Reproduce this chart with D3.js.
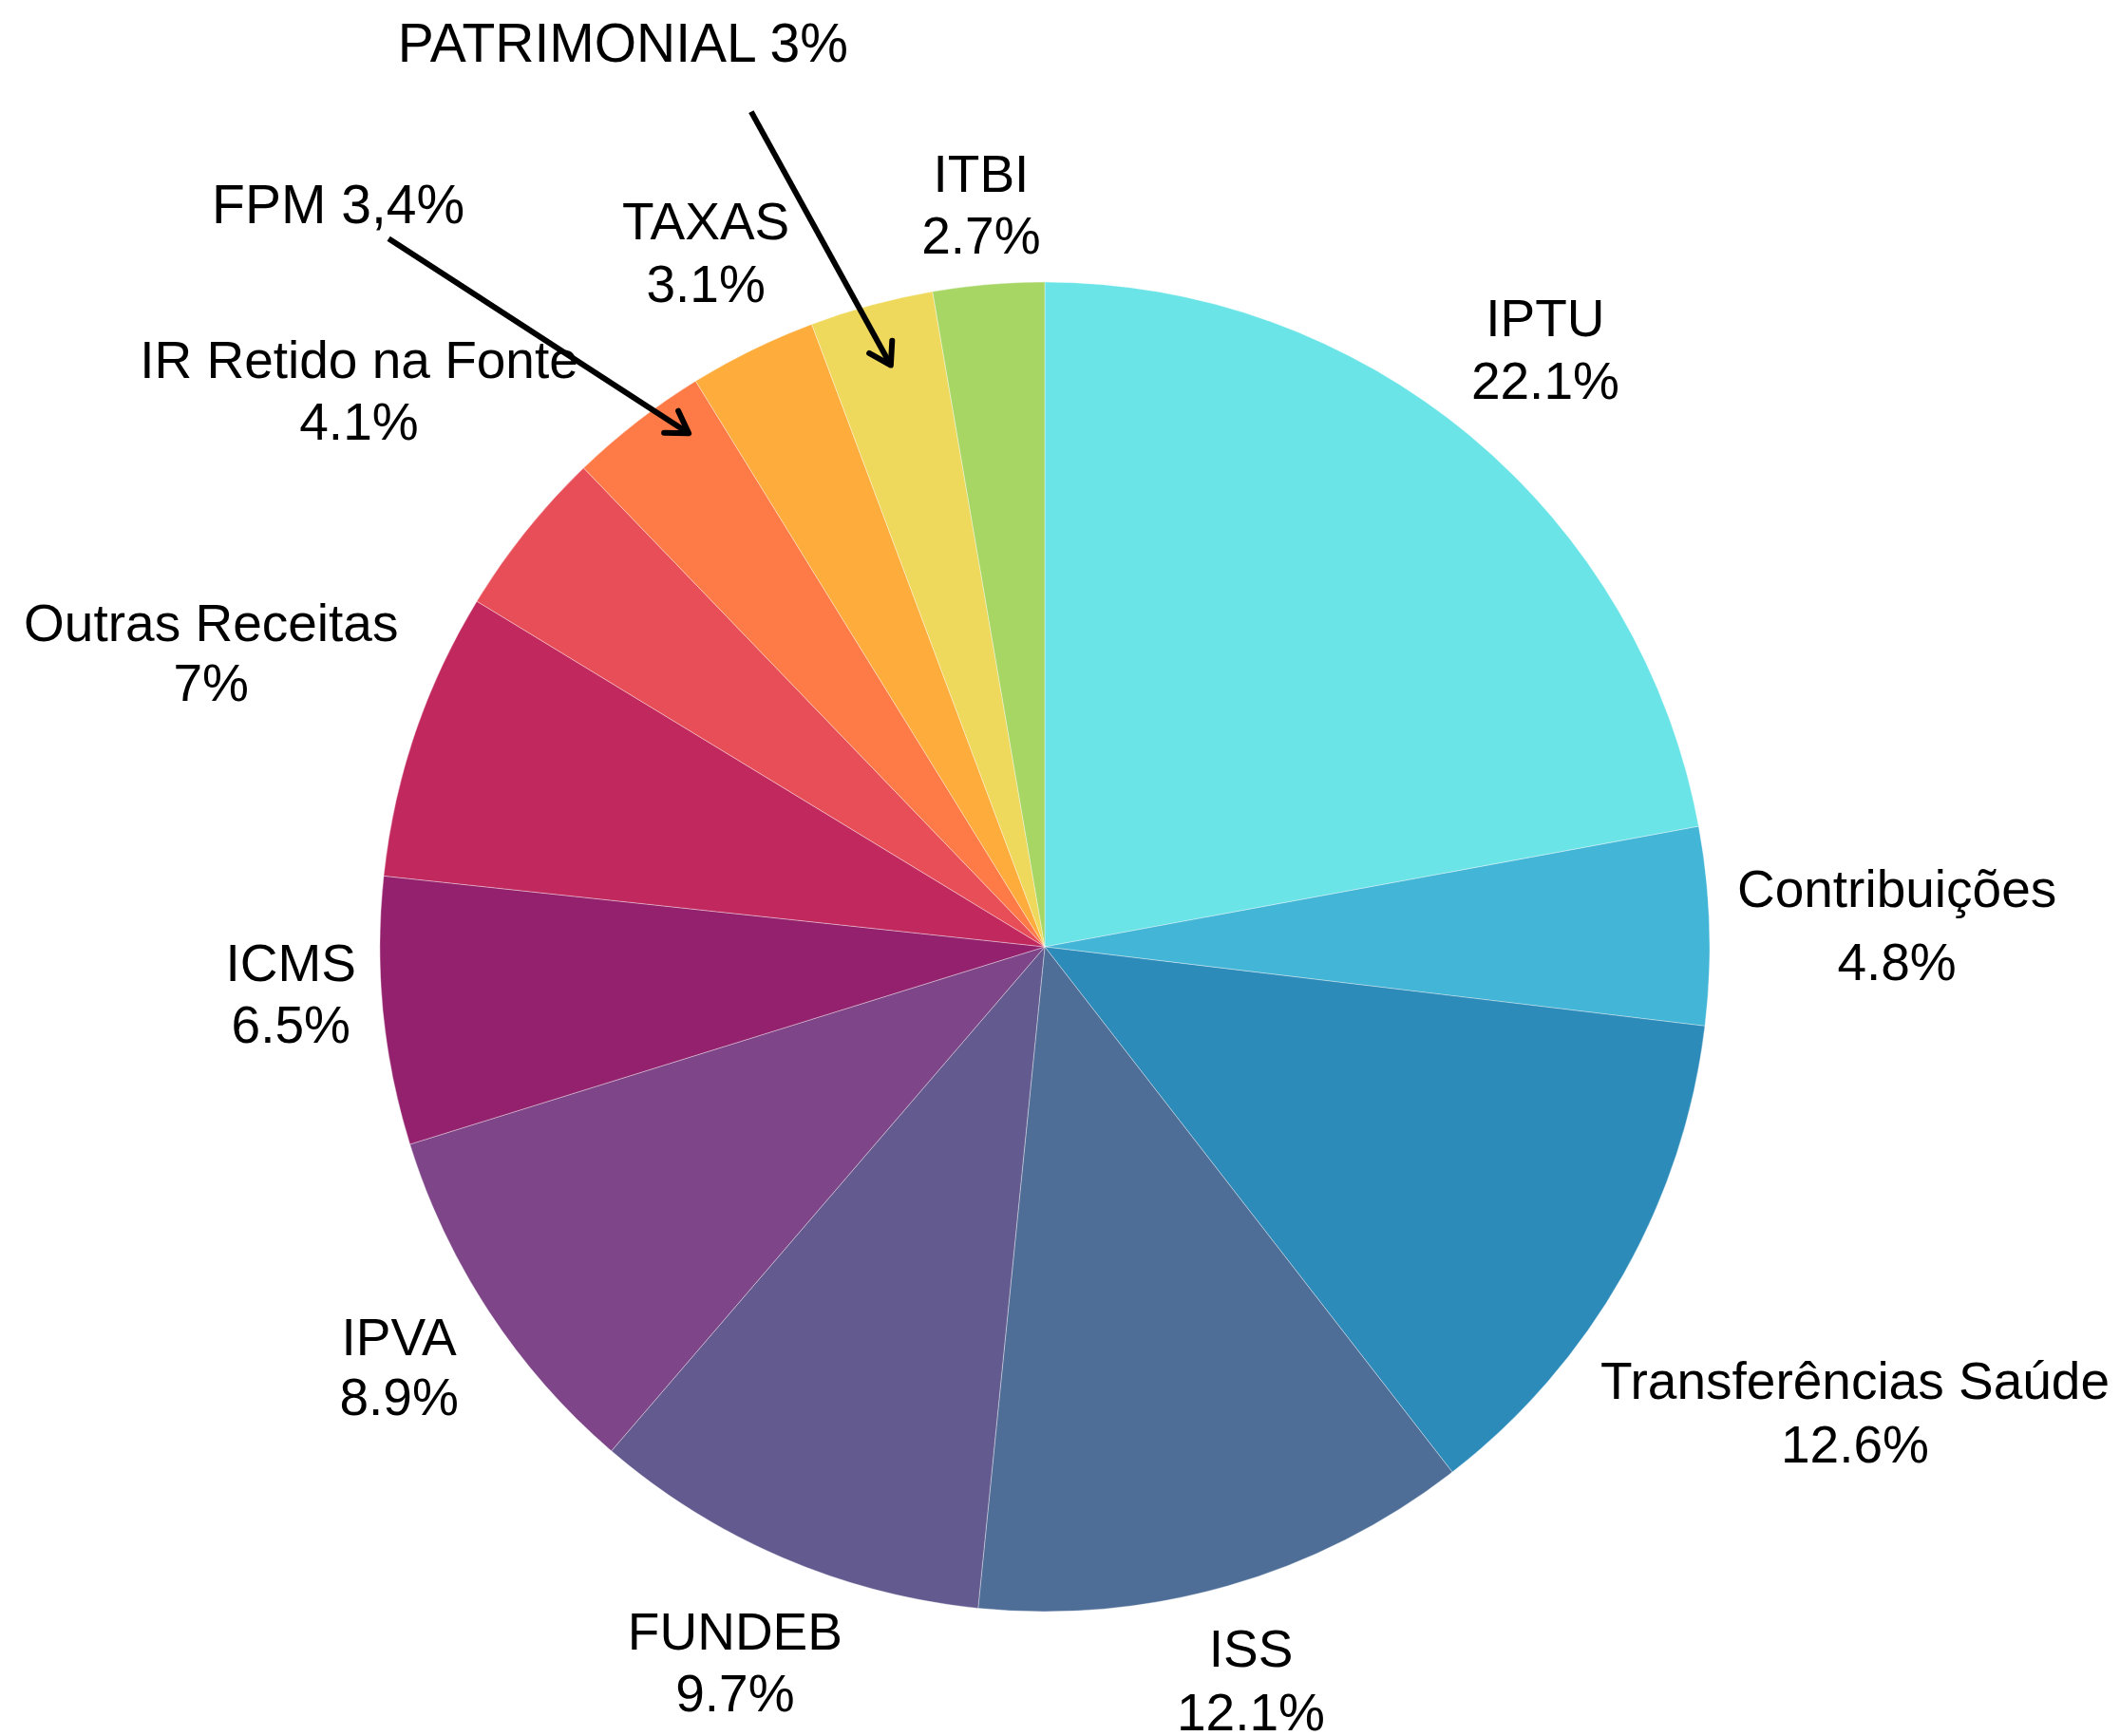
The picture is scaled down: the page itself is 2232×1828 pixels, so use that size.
<!DOCTYPE html>
<html>
<head>
<meta charset="utf-8">
<script src="https://cdn.jsdelivr.net/npm/d3@7"></script>
<style>
  html, body { margin: 0; padding: 0; background: #ffffff; }
  svg { display: block; }
  text { font-family: "Liberation Sans", Arial, Helvetica, sans-serif; fill: #000; }
</style>
</head>
<body>
<svg id="chart" width="2232" height="1828"></svg>
<script>
// ---------- data ----------
const categories = [
  "IPTU", "Contribuições", "Transferências Saúde", "ISS", "FUNDEB", "IPVA",
  "ICMS", "Outras Receitas", "IR Retido na Fonte", "FPM", "TAXAS", "PATRIMONIAL", "ITBI"
];
const values = [22.1, 4.8, 12.6, 12.1, 9.7, 8.9, 6.5, 7, 4.1, 3.4, 3.1, 3, 2.7];
const colors = [
  "#6be4e8", "#43b5d6", "#2d8bb9", "#4e6e98", "#635b8f", "#7e4688",
  "#93216d", "#c1285d", "#e84e58", "#fe7a46", "#feac3b", "#efd95c", "#a7d665"
];
// slices annotated with an arrow instead of an inline label
const annotatedCategories = ["FPM", "PATRIMONIAL"];
const annotationTexts = ["FPM 3,4%", "PATRIMONIAL 3%"];

// ---------- layout ----------
const W = 2232, H = 1828;
const cx = 1100, cy = 997, R = 700;
const fontSize = 55, annFontSize = 57;

// label placement: [radius factor, angle offset in degrees, line spacing]
const labelPlacement = {
  "IPTU": [1.173, 0.14, 66],
  "Contribuições": [1.282, 0.3, 77],
  "Transferências Saúde": [1.405, 0.33, 67],
  "ISS": [1.145, 0.31, 67],
  "FUNDEB": [1.172, 0.2, 65],
  "IPVA": [1.158, 0.3, 63],
  "ICMS": [1.136, 2.08, 65],
  "Outras Receitas": [1.330, 0.75, 63],
  "IR Retido na Fonte": [1.329, 0.39, 65],
  "TAXAS": [1.163, 0.1, 66],
  "ITBI": [1.122, -0.04, 65]
};
// annotation geometry: arrow head (polar: radius factor, angle offset deg from slice mid),
// tail and text relative to the head
const annotationPlacement = {
  "FPM": { head: [0.940, 3.07], tail: [-316, -205], text: [-369, -221] },
  "PATRIMONIAL": { head: [0.905, 0.29], tail: [-147, -267], text: [-282, -320] }
};

const data = categories.map((c, i) => ({ name: c, value: values[i], color: colors[i] }));

const svg = d3.select("#chart");
const g = svg.append("g").attr("transform", `translate(${cx},${cy})`);

const pie = d3.pie().value(d => d.value).sort(null).startAngle(0).endAngle(2 * Math.PI);
const arcs = pie(data);
const arc = d3.arc().innerRadius(0).outerRadius(R);

g.selectAll("path.slice")
  .data(arcs)
  .join("path")
  .attr("class", "slice")
  .attr("d", arc)
  .attr("fill", d => d.data.color)
  .attr("stroke", "#ffffff")
  .attr("stroke-opacity", 0.45)
  .attr("stroke-width", 0.8);

const polar = (angle, radius) => [radius * Math.sin(angle), -radius * Math.cos(angle)];
const deg = Math.PI / 180;

// inline labels
arcs.forEach(a => {
  const p = labelPlacement[a.data.name];
  if (!p) return;
  const mid = (a.startAngle + a.endAngle) / 2 + p[1] * deg;
  const [x, yc] = polar(mid, R * p[0]);
  const s = p[2];
  const t = g.append("text")
    .attr("text-anchor", "middle")
    .attr("font-size", fontSize);
  t.append("tspan").attr("x", x).attr("y", yc + 20 - s / 2).text(a.data.name);
  t.append("tspan").attr("x", x).attr("y", yc + 20 + s / 2).text(a.data.value + "%");
});

// annotations with arrows
annotatedCategories.forEach((name, i) => {
  const a = arcs.find(d => d.data.name === name);
  const p = annotationPlacement[name];
  const mid = (a.startAngle + a.endAngle) / 2 + p.head[1] * deg;
  const [hx, hy] = polar(mid, R * p.head[0]);
  const tx = hx + p.tail[0], ty = hy + p.tail[1];
  g.append("line")
    .attr("x1", tx).attr("y1", ty)
    .attr("x2", hx).attr("y2", hy)
    .attr("stroke", "#000").attr("stroke-width", 6);
  const ang = Math.atan2(ty - hy, tx - hx);
  const L = 26, spread = 32 * deg;
  const p1 = [hx + L * Math.cos(ang + spread), hy + L * Math.sin(ang + spread)];
  const p2 = [hx + L * Math.cos(ang - spread), hy + L * Math.sin(ang - spread)];
  g.append("path")
    .attr("d", `M${p1[0]},${p1[1]}L${hx},${hy}L${p2[0]},${p2[1]}`)
    .attr("fill", "none")
    .attr("stroke", "#000")
    .attr("stroke-width", 6)
    .attr("stroke-linejoin", "round")
    .attr("stroke-linecap", "round");
  g.append("text")
    .attr("x", hx + p.text[0])
    .attr("y", hy + p.text[1])
    .attr("text-anchor", "middle")
    .attr("font-size", annFontSize)
    .text(annotationTexts[i]);
});
</script>
</body>
</html>
